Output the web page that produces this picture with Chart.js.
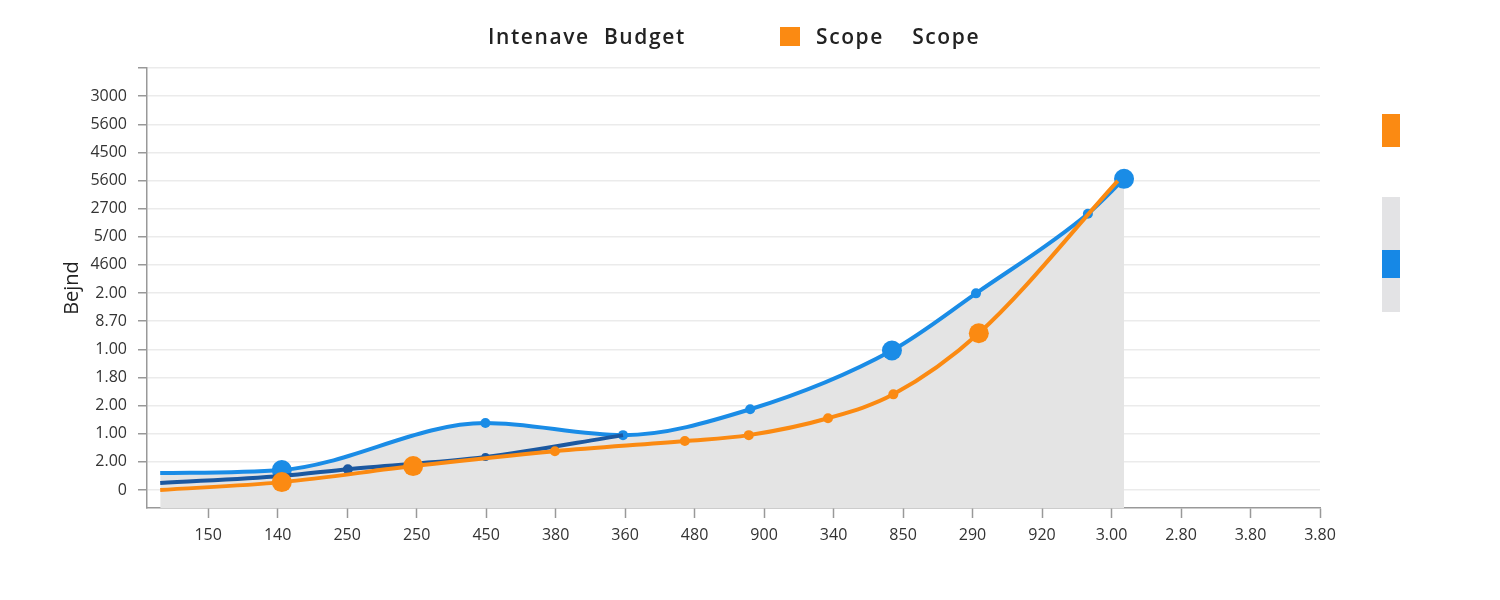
<!DOCTYPE html>
<html>
<head>
<meta charset="utf-8">
<script src="https://cdn.jsdelivr.net/npm/chart.js@4.4.1/dist/chart.umd.min.js"></script>
<style>
  body { margin: 0; background: #fff; font-family: "Open Sans", sans-serif; }
  #wrap { position: relative; width: 1500px; height: 600px; }
  .legend-text { position: absolute; top: 22px; font-size: 21px; font-weight: 600; color: #222; white-space: pre; line-height: 28px; letter-spacing: 1.6px; }
  .swatch { position: absolute; }
</style>
</head>
<body>
<div id="wrap">
  <canvas id="chart"></canvas>
  <div class="legend-text" style="left:488px">Intenave  Budget</div>
  <div class="swatch" style="left:780px;top:27px;width:20px;height:19px;background:#fb8a12"></div>
  <div class="legend-text" style="left:816px">Scope    Scope</div>
  <!-- right side bars -->
  <div class="swatch" style="left:1382px;top:114px;width:18px;height:33px;background:#fb8a12"></div>
  <div class="swatch" style="left:1382px;top:197px;width:18px;height:115px;background:#e3e3e5"></div>
  <div class="swatch" style="left:1382px;top:250px;width:18px;height:28px;background:#1688e6"></div>
</div>
<script>
// axis labels (as printed on the chart)
const xLabels = ['150', '140', '250', '250', '450', '380', '360', '480', '900', '340', '850', '290', '920', '3.00', '2.80', '3.80', '3.80'];
const yLabels = ['0', '2.00', '1.00', '2.00', '1.80', '1.00', '8.70', '2.00', '4600', '5/00', '2700', '5600', '4500', '5600', '3000', ''];

// light blue series
const blueX = [-0.69, 1.06, 3.99, 5.97, 7.80, 9.84, 11.05, 12.66, 13.18];
const blueY = [0.60, 0.71, 2.38, 1.95, 2.87, 4.96, 6.99, 9.82, 11.06];
const blueBig = [1, 5, 8];

// dark blue series
const darkX = [-0.69, 1.06, 2.01, 3.99, 5.97];
const darkY = [0.25, 0.50, 0.74, 1.17, 1.95];

// orange series
const orangeX = [-0.69, 1.06, 2.95, 4.99, 6.86, 7.78, 8.92, 9.86, 11.09, 13.09];
const orangeY = [0.00, 0.28, 0.85, 1.38, 1.74, 1.95, 2.55, 3.40, 5.57, 10.99];
const orangeBig = [1, 2, 8];

function pts(xs, ys) {
  return xs.map((x, i) => ({ x: x, y: ys[i] }));
}

// first point has no marker, big ones get the large dot
function radii(n, big, lastHidden) {
  return Array.from({ length: n }, (_, i) => {
    if (i === 0) return 0;
    if (lastHidden && i === n - 1) return 0;
    return big.includes(i) ? 10 : 5;
  });
}

const ctx = document.getElementById('chart');

new Chart(ctx, {
  type: 'line',
  data: {
    datasets: [
      {
        label: 'Scope',
        data: pts(orangeX, orangeY),
        borderColor: '#fb8a12',
        backgroundColor: '#fb8a12',
        pointBackgroundColor: '#fb8a12',
        pointBorderWidth: 0,
        pointRadius: radii(orangeX.length, orangeBig, true),
        borderWidth: 4,
        cubicInterpolationMode: 'monotone',
        fill: false,
        order: 1
      },
      {
        label: 'Dark',
        data: pts(darkX, darkY),
        borderColor: '#1b58a0',
        pointBackgroundColor: '#1b58a0',
        pointBorderWidth: 0,
        pointRadius: [0, 0, 5, 4, 0],
        borderWidth: 4,
        cubicInterpolationMode: 'monotone',
        fill: false,
        order: 2
      },
      {
        label: 'Intenave Budget',
        data: pts(blueX, blueY),
        borderColor: '#1a8ce6',
        backgroundColor: '#e4e4e4',
        pointBackgroundColor: '#1a8ce6',
        pointBorderWidth: 0,
        pointRadius: radii(blueX.length, blueBig, false),
        borderWidth: 4,
        cubicInterpolationMode: 'monotone',
        fill: 'start',
        order: 3
      }
    ]
  },
  options: {
    responsive: true,
    maintainAspectRatio: false,
    animation: false,
    layout: { padding: { top: 68, right: 180, bottom: 0, left: 0 } },
    plugins: {
      legend: { display: false },
      tooltip: { enabled: false }
    },
    scales: {
      x: {
        type: 'linear',
        min: -0.88,
        max: 16,
        afterBuildTicks: (scale) => {
          scale.ticks = xLabels.map((_, i) => ({ value: i }));
        },
        afterFit: (scale) => { scale.height = 92; },
        ticks: {
          autoSkip: false,
          maxRotation: 0,
          padding: 8,
          color: '#333',
          font: { family: 'Open Sans', size: 16 },
          callback: (v) => xLabels[v]
        },
        grid: {
          drawOnChartArea: false,
          tickLength: 10,
          tickColor: '#999',
          tickWidth: 1.5
        },
        border: { color: '#999', width: 1.5 }
      },
      y: {
        type: 'linear',
        min: -0.64,
        max: 15,
        afterBuildTicks: (scale) => {
          scale.ticks = yLabels.map((_, i) => ({ value: i }));
        },
        afterFit: (scale) => { scale.width = 147; },
        ticks: {
          autoSkip: false,
          padding: 11,
          color: '#333',
          font: { family: 'Open Sans', size: 16 },
          callback: (v) => yLabels[v]
        },
        grid: {
          color: '#ebebeb',
          lineWidth: 1.5,
          tickLength: 9,
          tickColor: '#999'
        },
        border: { color: '#999', width: 1.5 },
        title: {
          display: true,
          text: 'Bejnd',
          color: '#222',
          font: { family: 'Open Sans', size: 20 },
          padding: { top: 60, bottom: 0 }
        }
      }
    }
  }
});
</script>
</body>
</html>
